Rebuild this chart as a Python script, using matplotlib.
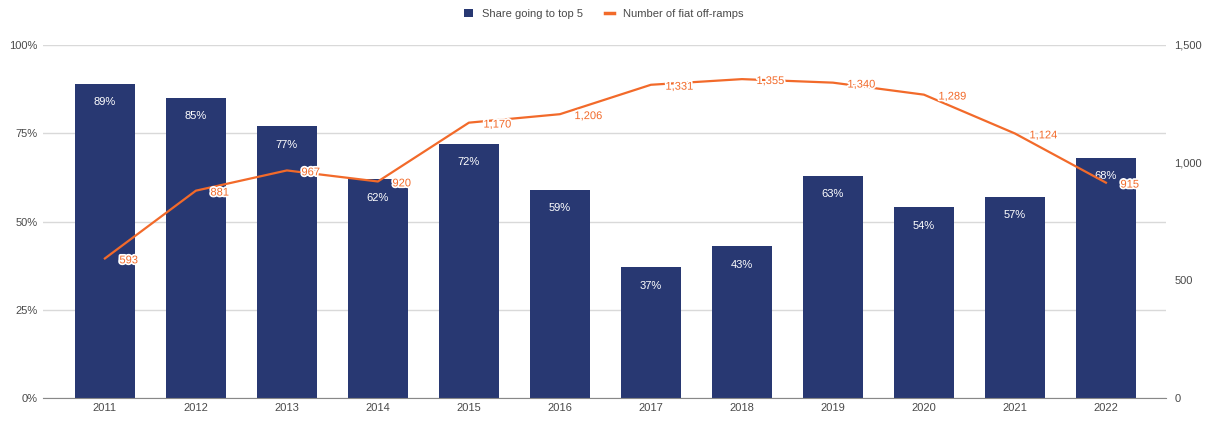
import matplotlib.pyplot as plt
import matplotlib.patheffects as pe
from matplotlib.lines import Line2D
from matplotlib.patches import Patch

plt.rcParams['font.family'] = ['Liberation Sans', 'DejaVu Sans']

COL_BAR = '#283872'
COL_LINE = '#f26a2a'
COL_GRID = '#d9d9d9'
COL_TEXT = '#4a4a4a'

years = ['2011', '2012', '2013', '2014', '2015', '2016',
         '2017', '2018', '2019', '2020', '2021', '2022']
share_top5 = [89, 85, 77, 62, 72, 59, 37, 43, 63, 54, 57, 68]
off_ramps = [593, 881, 967, 920, 1170, 1206, 1331, 1355, 1340, 1289, 1124, 915]

fig = plt.figure(figsize=(12.07, 4.21), dpi=100)
ax = fig.add_axes([43 / 1207, 1 - 398 / 421, (1166 - 43) / 1207, (398 - 45) / 421])
ax2 = ax.twinx()

x = list(range(len(years)))
ax.bar(x, share_top5, width=0.66, color=COL_BAR, zorder=2)
ax.set_ylim(0, 100)
ax.set_xlim(-0.68, 11.66)
ax.set_yticks([0, 25, 50, 75, 100])
ax.set_yticklabels(['0%', '25%', '50%', '75%', '100%'])
ax.grid(axis='y', color=COL_GRID, linewidth=1, zorder=0)
ax.set_axisbelow(True)
ax.set_xticks(x)
ax.set_xticklabels(years)
ax.tick_params(axis='both', length=0, colors=COL_TEXT, labelsize=8)
ax.tick_params(axis='y', pad=4)
for s in ['top', 'right', 'left']:
    ax.spines[s].set_visible(False)
ax.spines['bottom'].set_color('#888888')

for xi, v in zip(x, share_top5):
    ax.text(xi, v - 3.8, f'{v}%', ha='center', va='top', color='white', fontsize=8, zorder=3)

ax2.plot(x, off_ramps, color=COL_LINE, linewidth=1.6, zorder=4)
ax2.set_ylim(0, 1500)
ax2.set_yticks([0, 500, 1000, 1500])
ax2.set_yticklabels(['0', '500', '1,000', '1,500'])
ax2.tick_params(axis='y', length=0, colors=COL_TEXT, labelsize=8, pad=6)
for s in ax2.spines.values():
    s.set_visible(False)

halo = [pe.withStroke(linewidth=2.5, foreground='white')]
for xi, v in zip(x, off_ramps):
    ax2.text(xi + 0.16, v - 8, f'{v:,}', ha='left', va='center', color=COL_LINE,
             fontsize=8, path_effects=halo, zorder=5)

handles = [Patch(facecolor=COL_BAR, edgecolor='none'),
           Line2D([0], [0], color=COL_LINE, linewidth=2.5)]
fig.legend(handles, ['Share going to top 5', 'Number of fiat off-ramps'],
           loc='center', bbox_to_anchor=(0.5, 1 - 14 / 421), ncol=2, frameon=False,
           fontsize=8, handlelength=0.8, handleheight=0.8, columnspacing=2,
           labelcolor=COL_TEXT)

fig.savefig('out.png', dpi=100, facecolor='white')
